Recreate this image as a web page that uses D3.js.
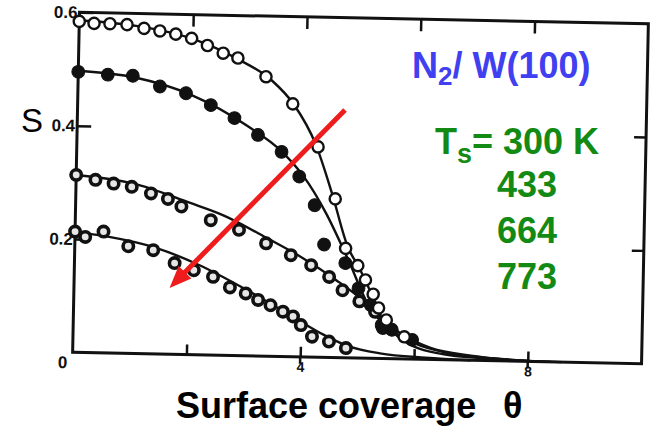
<!DOCTYPE html>
<html>
<head>
<meta charset="utf-8">
<script src="https://cdn.jsdelivr.net/npm/d3@7"></script>
<style>
  body { margin: 0; background: #ffffff; }
  svg { display: block; }
</style>
</head>
<body>
<div id="chart"></div>
<script>
// sticking coefficient S vs coverage, N2 on W(100)
var temps = ["300 K", "433", "664", "773"];

var theta300 = [0, 0.26, 0.54, 0.84, 1.14, 1.42, 1.70, 1.98, 2.26, 2.54, 2.80, 3.30, 3.78, 4.24, 4.56, 4.76, 4.98, 5.12, 5.26, 5.36, 5.50, 5.82];
var s300 = [0.584, 0.581, 0.581, 0.580, 0.574, 0.570, 0.565, 0.558, 0.546, 0.533, 0.525, 0.493, 0.446, 0.371, 0.280, 0.193, 0.163, 0.138, 0.113, 0.089, 0.068, 0.039];

var theta433 = [0, 0.52, 0.96, 1.44, 1.90, 2.34, 2.76, 3.18, 3.60, 3.92, 4.20, 4.38, 4.76, 5.00, 5.22, 5.42, 5.60, 5.96];
var s433 = [0.495, 0.491, 0.490, 0.472, 0.461, 0.441, 0.419, 0.390, 0.361, 0.318, 0.268, 0.199, 0.167, 0.123, 0.094, 0.059, 0.051, 0.034];

var theta664 = [0, 0.34, 0.66, 0.98, 1.32, 1.62, 1.86, 2.38, 2.88, 3.36, 3.80, 4.16, 4.48, 4.72, 5.02, 5.30, 5.44];
var s664 = [0.313, 0.305, 0.299, 0.294, 0.283, 0.274, 0.261, 0.238, 0.222, 0.199, 0.179, 0.162, 0.142, 0.119, 0.100, 0.082, 0.054];

var theta773 = [0, 0.18, 0.50, 0.94, 1.38, 1.76, 2.10, 2.44, 2.74, 3.02, 3.24, 3.46, 3.68, 3.86, 4.00, 4.20, 4.50, 4.80];
var s773 = [0.213, 0.204, 0.214, 0.189, 0.183, 0.161, 0.149, 0.138, 0.120, 0.110, 0.099, 0.090, 0.079, 0.071, 0.056, 0.036, 0.028, 0.017];

// smooth fitted curves
var fit300 = [[0, 0.586], [1, 0.578], [2, 0.557], [2.8, 0.523], [3.4, 0.487], [3.8, 0.445], [4.2, 0.375], [4.5, 0.29], [4.8, 0.195], [5.0, 0.16], [5.2, 0.12], [5.4, 0.075], [5.7, 0.04], [6.0, 0.022], [6.5, 0.01], [7.2, 0.004], [8.0, 0.001], [8.6, 0]];
var fit433 = [[0, 0.497], [1, 0.487], [2, 0.458], [3, 0.405], [3.6, 0.362], [4.0, 0.318], [4.4, 0.255], [4.8, 0.175], [5.2, 0.09], [5.6, 0.05], [6.0, 0.028], [6.6, 0.012], [7.4, 0.004], [8.4, 0]];
var fit664 = [[0, 0.313], [1, 0.3], [2, 0.268], [2.6, 0.247], [3.4, 0.207], [4.0, 0.175], [4.6, 0.137], [5.0, 0.108], [5.4, 0.07], [5.8, 0.042], [6.3, 0.02], [7.0, 0.008], [8.2, 0]];
var fit773 = [[0, 0.212], [0.6, 0.205], [1.4, 0.188], [2.2, 0.158], [3.0, 0.118], [3.6, 0.085], [4.0, 0.062], [4.4, 0.04], [4.8, 0.022], [5.4, 0.009], [6.2, 0.003], [7.0, 0]];

var xTicks = [2, 4, 6, 8];
var xLabels = {4: "4", 8: "8"};
var yTicks = [0.2, 0.4];
var yLabels = [0.2, 0.4, 0.6];

// arrow: from high to low T direction
var arrowFrom = [4.70, 0.437];
var arrowTo = [1.68, 0.117];

var width = 658, height = 431;

var svg = d3.select("#chart").append("svg")
    .attr("width", width)
    .attr("height", height);

svg.append("rect").attr("width", width).attr("height", height).attr("fill", "#fff");

// the scanned plot is a little tilted
var plot = svg.append("g")
    .attr("transform", "rotate(1.15, 360, 188)");

var x = d3.scaleLinear().domain([0, 10]).range([76, 645]);
var y = d3.scaleLinear().domain([0, 0.6]).range([358, 18]);

// frame
plot.append("rect")
    .attr("x", x(0)).attr("y", y(0.6))
    .attr("width", x(10) - x(0)).attr("height", y(0) - y(0.6))
    .attr("fill", "none").attr("stroke", "#111").attr("stroke-width", 3);

var tickFont = "'Liberation Sans Narrow', 'Liberation Sans', Arial, sans-serif";

var gx = plot.append("g")
    .attr("transform", "translate(0," + y(0) + ")")
    .call(d3.axisBottom(x).tickValues(xTicks).tickSizeInner(-10).tickSizeOuter(0).tickPadding(5)
        .tickFormat(function (d) { return xLabels[d] || ""; }));
gx.select(".domain").remove();
gx.selectAll("line").attr("stroke", "#111").attr("stroke-width", 2.5);
gx.selectAll("text").style("font-family", tickFont).style("font-weight", "bold").style("font-size", "14px").attr("fill", "#111");

// ticks crossing the bottom axis where labelled
plot.selectAll(".xdown").data([4, 8]).enter().append("line")
    .attr("x1", function (d) { return x(d); }).attr("x2", function (d) { return x(d); })
    .attr("y1", y(0)).attr("y2", y(0) + 7)
    .attr("stroke", "#111").attr("stroke-width", 2.5);

var gxt = plot.append("g")
    .attr("transform", "translate(0," + y(0.6) + ")")
    .call(d3.axisTop(x).tickValues(xTicks).tickSizeInner(-12).tickSizeOuter(0).tickFormat(""));
gxt.select(".domain").remove();
gxt.selectAll("line").attr("stroke", "#111").attr("stroke-width", 2.5);

var gy = plot.append("g")
    .attr("transform", "translate(" + x(0) + ",0)")
    .call(d3.axisLeft(y).tickValues(yLabels).tickSizeInner(-14).tickSizeOuter(0).tickPadding(2)
        .tickFormat(d3.format(".1f")));
gy.select(".domain").remove();
gy.selectAll("line").attr("stroke", "#111").attr("stroke-width", 2.5);
gy.selectAll("text").style("font-family", tickFont).style("font-weight", "bold").style("font-size", "17px").attr("fill", "#111");

plot.append("text")
    .attr("x", x(0) - 5).attr("y", y(0) + 10)
    .attr("text-anchor", "end").attr("dy", "0.35em")
    .style("font-family", tickFont).style("font-weight", "bold").style("font-size", "17px")
    .attr("fill", "#111").text("0");

var gyr = plot.append("g")
    .attr("transform", "translate(" + x(10) + ",0)")
    .call(d3.axisRight(y).tickValues(yTicks).tickSizeInner(-12).tickSizeOuter(0).tickFormat(""));
gyr.select(".domain").remove();
gyr.selectAll("line").attr("stroke", "#111").attr("stroke-width", 2.5);

// fitted curves
var line = d3.line()
    .x(function (d) { return x(d[0]); })
    .y(function (d) { return y(d[1]); })
    .curve(d3.curveMonotoneX);

[fit300, fit433, fit664, fit773].forEach(function (f) {
    plot.append("path").datum(f)
        .attr("d", line)
        .attr("fill", "none").attr("stroke", "#111").attr("stroke-width", 2.4);
});

function pts(xs, ys) {
    return xs.map(function (v, i) { return [v, ys[i]]; });
}

var series = [
    {data: pts(theta773, s773), r: 5.2, fill: "#e6e6e6", sw: 3.6},
    {data: pts(theta664, s664), r: 5.2, fill: "#e6e6e6", sw: 3.6},
    {data: pts(theta433, s433), r: 6.4, fill: "#111", sw: 1},
    {data: pts(theta300, s300), r: 5.6, fill: "#fff", sw: 2.4}
];

series.forEach(function (s) {
    plot.append("g").selectAll("circle")
        .data(s.data)
        .enter().append("circle")
        .attr("cx", function (d) { return x(d[0]); })
        .attr("cy", function (d) { return y(d[1]); })
        .attr("r", s.r)
        .attr("fill", s.fill)
        .attr("stroke", "#111")
        .attr("stroke-width", s.sw);
});

// red arrow
var p0 = [x(arrowFrom[0]), y(arrowFrom[1])];
var p1 = [x(arrowTo[0]), y(arrowTo[1])];
var ang = Math.atan2(p1[1] - p0[1], p1[0] - p0[0]);
var headLen = 22, headW = 9;
var base = [p1[0] - headLen * Math.cos(ang), p1[1] - headLen * Math.sin(ang)];
plot.append("line")
    .attr("x1", p0[0]).attr("y1", p0[1])
    .attr("x2", base[0] + 4 * Math.cos(ang)).attr("y2", base[1] + 4 * Math.sin(ang))
    .attr("stroke", "#ee1c1c").attr("stroke-width", 5);
plot.append("path")
    .attr("d", "M" + p1[0] + "," + p1[1] +
        "L" + (base[0] + headW * Math.sin(ang)) + "," + (base[1] - headW * Math.cos(ang)) +
        "L" + (base[0] - headW * Math.sin(ang)) + "," + (base[1] + headW * Math.cos(ang)) + "Z")
    .attr("fill", "#ee1c1c");

// labels
var font = "'Liberation Sans', Arial, Helvetica, sans-serif";

svg.append("text")
    .attr("x", 32).attr("y", 132)
    .attr("text-anchor", "middle")
    .style("font-family", font).style("font-size", "33px")
    .attr("fill", "#000").text("S");

var xt = svg.append("text")
    .attr("x", 176).attr("y", 418)
    .style("font-family", font).style("font-size", "36px").style("font-weight", "bold")
    .attr("fill", "#000");
xt.append("tspan").text("Surface coverage");
xt.append("tspan").attr("x", 503).text("θ");

var title = svg.append("text")
    .attr("x", 412).attr("y", 78)
    .style("font-family", font).style("font-size", "36px").style("font-weight", "bold")
    .attr("fill", "#4040f0");
title.append("tspan").text("N");
title.append("tspan").attr("dy", 7).style("font-size", "26px").text("2");
title.append("tspan").attr("dy", -7).text("/ W(100)");

var ts = svg.append("text")
    .attr("x", 435).attr("y", 154)
    .style("font-family", font).style("font-size", "36px").style("font-weight", "bold")
    .attr("fill", "#138a13");
ts.append("tspan").text("T");
ts.append("tspan").attr("dy", 9).style("font-size", "27px").text("s");
ts.append("tspan").attr("dy", -9).text("= " + temps[0]);

svg.selectAll(".tlab").data(temps.slice(1)).enter().append("text")
    .attr("x", 497)
    .attr("y", function (d, i) { return 197 + i * 46; })
    .style("font-family", font).style("font-size", "36px").style("font-weight", "bold")
    .attr("fill", "#138a13")
    .text(function (d) { return d; });
</script>
</body>
</html>
